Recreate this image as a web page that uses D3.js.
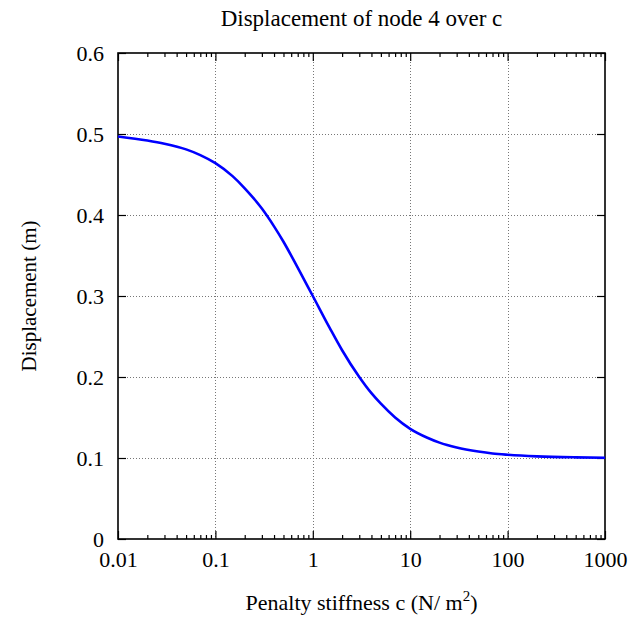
<!DOCTYPE html>
<html lang="en">

<head>
	<meta charset="UTF-8">
	<title>displacement</title>
	<script type="text/javascript" src="https://cdn.jsdelivr.net/npm/d3@7/dist/d3.min.js" charset="UTF-8"></script>
	<style>
		body { margin: 0; background: #fff; }
		text { font-family: "Liberation Serif", "DejaVu Serif", serif; fill: #000; }
	</style>
</head>

<body>
	<script type="text/javascript">
	// penalty stiffness c (log axis) and displacement of node 4
	let stiffness = [0.01, 0.02, 0.03, 0.05, 0.07, 0.1, 0.15, 0.2, 0.3, 0.4, 0.5, 0.7, 1, 1.5, 2, 3, 4, 5, 7, 10, 15, 20, 30, 50, 70, 100, 200, 500, 1000]
	let displacement = [0.497, 0.492, 0.488, 0.481, 0.474, 0.464, 0.448, 0.433, 0.408, 0.386, 0.367, 0.335, 0.300, 0.260, 0.233, 0.200, 0.180, 0.167, 0.150, 0.136, 0.125, 0.119, 0.113, 0.108, 0.1056, 0.104, 0.102, 0.1008, 0.1004]
	let xTicks = [0.01, 0.1, 1, 10, 100, 1000]
	let yTicks = [0, 0.1, 0.2, 0.3, 0.4, 0.5, 0.6]

	let width = 630,
		height = 617,
		pLeft = 118,
		pRight = 605,
		pTop = 53,
		pBottom = 539

	let svg = d3.select('body').append('svg')
		.attr('width', width)
		.attr('height', height)

	let x = d3.scaleLog().domain([0.01, 1000]).range([pLeft, pRight])
	let y = d3.scaleLinear().domain([0, 0.6]).range([pBottom, pTop])

	// minor ticks 2..9 per decade
	let minor = []
	for (let d = 0.01; d < 1000; d *= 10)
		for (let k = 2; k < 10; k++) minor.push(+(d * k).toPrecision(3))

	// grid
	let grid = svg.append('g')
		.attr('stroke', '#777')
		.attr('stroke-width', 1)
		.attr('stroke-dasharray', '1,2')
	grid.selectAll('.gx')
		.data(xTicks.slice(1, -1))
		.enter().append('line')
		.attr('x1', d => Math.round(x(d)) + 0.5).attr('x2', d => Math.round(x(d)) + 0.5)
		.attr('y1', pTop).attr('y2', pBottom)
	grid.selectAll('.gy')
		.data(yTicks.slice(1, -1))
		.enter().append('line')
		.attr('x1', pLeft).attr('x2', pRight)
		.attr('y1', d => Math.round(y(d)) + 0.5).attr('y2', d => Math.round(y(d)) + 0.5)

	// axes with inward ticks on all four sides
	svg.append('g')
		.attr('transform', `translate(0,${pBottom})`)
		.call(d3.axisBottom(x).tickValues(xTicks).tickFormat(d => String(d)).tickSize(-8).tickPadding(12))
	svg.append('g')
		.attr('transform', `translate(0,${pBottom})`)
		.call(d3.axisBottom(x).tickValues(minor).tickFormat('').tickSize(-4))
	svg.append('g')
		.attr('transform', `translate(0,${pTop})`)
		.call(d3.axisTop(x).tickValues(xTicks).tickFormat('').tickSize(-8))
	svg.append('g')
		.attr('transform', `translate(0,${pTop})`)
		.call(d3.axisTop(x).tickValues(minor).tickFormat('').tickSize(-4))
	svg.append('g')
		.attr('transform', `translate(${pLeft},0)`)
		.call(d3.axisLeft(y).tickValues(yTicks).tickFormat(d => String(d)).tickSize(-8).tickPadding(14))
	svg.append('g')
		.attr('transform', `translate(${pRight},0)`)
		.call(d3.axisRight(y).tickValues(yTicks).tickFormat('').tickSize(-8))

	svg.selectAll('.domain').remove()
	svg.selectAll('.tick line').attr('stroke', '#000').attr('stroke-width', 1.2)
	svg.selectAll('.tick text')
		.style('font-family', '"Liberation Serif", serif')
		.style('font-size', '22px')

	svg.append('rect')
		.attr('x', pLeft).attr('y', pTop)
		.attr('width', pRight - pLeft).attr('height', pBottom - pTop)
		.attr('fill', 'none')
		.attr('stroke', '#000')
		.attr('stroke-width', 1.6)

	// curve
	let pts = stiffness.map((c, i) => [c, displacement[i]])
	let line = d3.line()
		.x(d => x(d[0]))
		.y(d => y(d[1]))
		.curve(d3.curveMonotoneX)
	svg.append('path')
		.attr('d', line(pts))
		.attr('stroke', '#0000ff')
		.attr('stroke-width', 2.6)
		.attr('fill', 'none')

	// titles
	svg.append('text')
		.attr('x', (pLeft + pRight) / 2).attr('y', 26)
		.attr('text-anchor', 'middle')
		.style('font-size', '23px')
		.text('Displacement of node 4 over c')

	let xt = svg.append('text')
		.attr('x', (pLeft + pRight) / 2).attr('y', 610)
		.attr('text-anchor', 'middle')
		.style('font-size', '22px')
	xt.append('tspan').text('Penalty stiffness c (N/ m')
	xt.append('tspan').attr('dy', -9).style('font-size', '15px').text('2')
	xt.append('tspan').attr('dy', 9).text(')')

	svg.append('text')
		.attr('transform', `translate(36,${(pTop + pBottom) / 2}) rotate(-90)`)
		.attr('text-anchor', 'middle')
		.style('font-size', '21px')
		.text('Displacement (m)')
	</script>
</body>

</html>
